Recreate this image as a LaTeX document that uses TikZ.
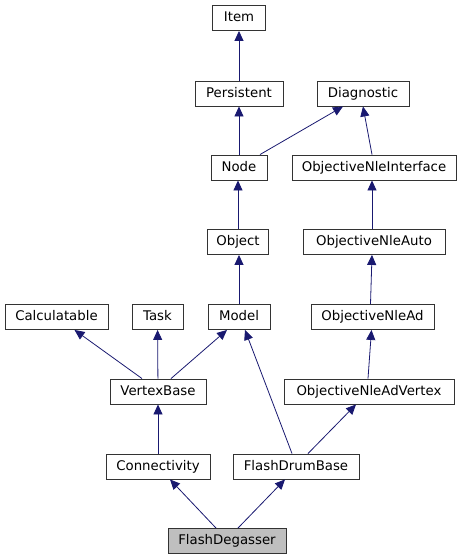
\documentclass[tikz,border=0pt]{standalone}
\usepackage{fontspec}
\setmainfont{DejaVu Sans}
\usepackage{tikz}
\usetikzlibrary{arrows.meta}

\definecolor{edgeblue}{HTML}{191970}
\definecolor{boxgray}{HTML}{BFBFBF}

\begin{document}
\begin{tikzpicture}[x=1pt, y=-1pt,
  cls/.style={draw=black!80, line width=0.9pt, fill=white, inner sep=0pt,
    minimum height=25pt, text height=9.6pt, text depth=2.6pt,
    font=\fontsize{13.3}{16}\selectfont},
  inh/.style={draw=edgeblue, line width=0.8pt,
    -{Triangle[length=10pt, width=9pt, fill=edgeblue]}}]

% Drawing window
\useasboundingbox (0,0) rectangle (461,560);

% Classes, row by row
\node[cls, minimum width=53pt]  (item)       at (239,18)    {Item};
\node[cls, minimum width=88pt]  (persistent) at (239,93.5)  {Persistent};
\node[cls, minimum width=92pt]  (diagnostic) at (363,93.5)  {Diagnostic};
\node[cls, minimum width=56pt]  (node)       at (239,167.5) {Node};
\node[cls, minimum width=164pt] (nleiface)   at (374,167.5) {ObjectiveNleInterface};
\node[cls, minimum width=61pt]  (object)     at (238,242)   {Object};
\node[cls, minimum width=142pt] (nleauto)    at (374,242)   {ObjectiveNleAuto};
\node[cls, minimum width=103pt] (calc)       at (56.5,317)  {Calculatable};
\node[cls, minimum width=51pt]  (task)       at (157.5,317) {Task};
\node[cls, minimum width=62pt]  (model)      at (239,317)   {Model};
\node[cls, minimum width=123pt] (nlead)      at (372.5,317) {ObjectiveNleAd};
\node[cls, minimum width=96pt]  (vertex)     at (158,391.5) {VertexBase};
\node[cls, minimum width=170pt] (nlevertex)  at (369,391.5) {ObjectiveNleAdVertex};
\node[cls, minimum width=104pt] (conn)       at (158,466.5) {Connectivity};
\node[cls, minimum width=126pt] (drum)       at (296,466.5) {FlashDrumBase};
\node[cls, minimum width=118pt, fill=boxgray] (degasser) at (227,541) {FlashDegasser};

% Inheritance edges (child -> parent)
\draw[inh] (persistent) -- (item);
\draw[inh] (node) -- (persistent);
\draw[inh] ([xshift=21pt]node.north) -- ([xshift=-20pt]diagnostic.south);
\draw[inh] ([xshift=-2pt]nleiface.north) -- (diagnostic.south);
\draw[inh] (object) -- ([xshift=-1pt]node.south);
\draw[inh] ([xshift=-2pt]nleauto.north) -- ([xshift=-2pt]nleiface.south);
\draw[inh] (model) -- ([xshift=1pt]object.south);
\draw[inh] ([xshift=-2pt]nlead.north) -- ([xshift=-2pt]nleauto.south);
\draw[inh] ([xshift=-16pt]vertex.north) -- ([xshift=18pt]calc.south);
\draw[inh] (vertex) -- (task);
\draw[inh] ([xshift=13pt]vertex.north) -- ([xshift=-12pt]model.south);
\draw[inh] ([xshift=-4pt]drum.north) -- ([xshift=6pt]model.south);
\draw[inh] ([xshift=-1pt]nlevertex.north) -- ([xshift=-1pt]nlead.south);
\draw[inh] ([xshift=12pt]drum.north) -- ([xshift=-13pt]nlevertex.south);
\draw[inh] (conn) -- (vertex);
\draw[inh] ([xshift=-11pt]degasser.north) -- ([xshift=12pt]conn.south);
\draw[inh] ([xshift=11pt]degasser.north) -- ([xshift=-11pt]drum.south);

\end{tikzpicture}
\end{document}
